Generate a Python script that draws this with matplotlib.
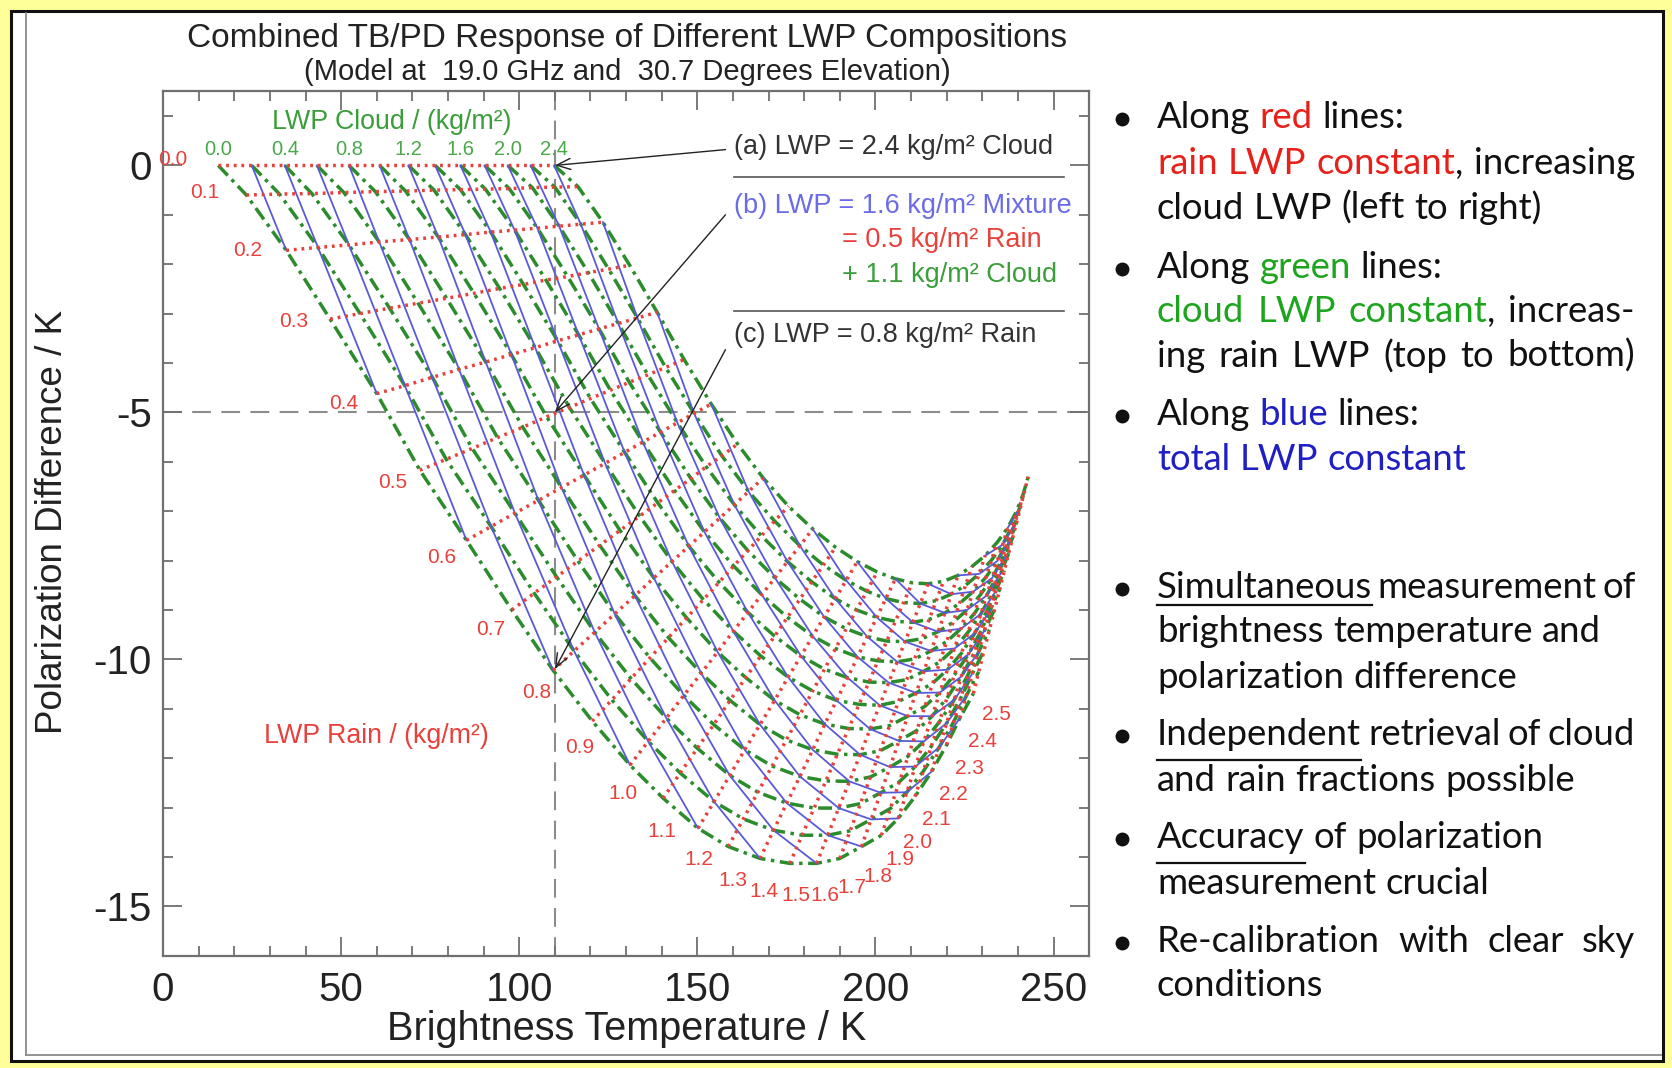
import re
import numpy as np
import matplotlib
matplotlib.use('Agg')
import matplotlib.pyplot as plt
from matplotlib.patches import Rectangle
from matplotlib.lines import Line2D

plt.rcParams['axes.unicode_minus'] = False
plt.rcParams['font.family'] = ['Liberation Sans', 'DejaVu Sans']

W, H = 1672, 1068

# model grid: rows = rain LWP, columns = cloud LWP
cloud_lwp = [0.0, 0.2, 0.4, 0.6, 0.8, 1.0, 1.2, 1.4, 1.6, 1.8, 2.0, 2.2, 2.4]
rain_lwp = [0.0, 0.1, 0.2, 0.3, 0.4, 0.5, 0.6, 0.7, 0.8, 0.9, 1.0, 1.1, 1.2,
            1.3, 1.4, 1.5, 1.6, 1.7, 1.8, 1.9, 2.0, 2.1, 2.2, 2.3, 2.4, 2.5]

# brightness temperature (K)
tb_table = [
    [15.5, 24.9, 34.2, 43.2, 52.2, 60.8, 68.9, 76.4, 83.5, 90.3, 96.8, 103.2, 109.8],
    [23.4, 32.7, 41.8, 50.8, 59.6, 68.1, 76.1, 83.5, 90.5, 97.2, 103.7, 110.0, 116.5],
    [34.6, 43.5, 52.2, 60.7, 69.2, 77.3, 84.9, 92.0, 98.7, 105.1, 111.2, 117.3, 123.5],
    [46.9, 55.3, 63.6, 71.6, 79.6, 87.3, 94.5, 101.2, 107.5, 113.6, 119.4, 125.1, 131.0],
    [60.0, 67.9, 75.6, 83.1, 90.6, 97.8, 104.5, 110.8, 116.7, 122.4, 127.8, 133.2, 138.7],
    [72.1, 79.5, 86.8, 93.9, 101.0, 107.7, 114.1, 120.0, 125.6, 130.9, 136.1, 141.1, 146.3],
    [85.2, 92.1, 98.8, 105.4, 111.9, 118.2, 124.1, 129.6, 134.7, 139.7, 144.4, 149.1, 153.9],
    [97.9, 104.2, 110.5, 116.5, 122.6, 128.3, 133.8, 138.9, 143.6, 148.2, 152.5, 156.9, 161.3],
    [109.5, 115.4, 121.2, 126.8, 132.5, 137.8, 142.9, 147.6, 152.0, 156.3, 160.4, 164.4, 168.5],
    [120.5, 126.0, 131.4, 136.7, 141.9, 147.0, 151.7, 156.1, 160.2, 164.2, 168.0, 171.7, 175.6],
    [131.1, 136.2, 141.3, 146.2, 151.1, 155.7, 160.1, 164.2, 168.1, 171.8, 175.3, 178.8, 182.4],
    [140.4, 145.2, 150.0, 154.6, 159.2, 163.6, 167.8, 171.7, 175.3, 178.8, 182.1, 185.4, 188.8],
    [150.2, 154.7, 159.1, 163.3, 167.6, 171.7, 175.5, 179.1, 182.4, 185.6, 188.7, 191.8, 194.9],
    [158.7, 162.9, 167.0, 171.0, 175.0, 178.8, 182.4, 185.7, 188.8, 191.8, 194.7, 197.6, 200.5],
    [167.6, 171.4, 175.1, 178.8, 182.4, 185.8, 189.1, 192.2, 195.0, 197.7, 200.4, 202.9, 205.6],
    [176.0, 179.4, 182.8, 186.1, 189.3, 192.5, 195.4, 198.2, 200.7, 203.2, 205.6, 207.9, 210.3],
    [183.5, 186.6, 189.7, 192.7, 195.7, 198.5, 201.2, 203.7, 206.1, 208.3, 210.5, 212.6, 214.8],
    [190.0, 192.9, 195.8, 198.6, 201.3, 204.0, 206.5, 208.8, 211.0, 213.1, 215.1, 217.1, 219.1],
    [196.1, 198.8, 201.5, 204.1, 206.6, 209.1, 211.4, 213.6, 215.6, 217.6, 219.5, 221.3, 223.2],
    [201.7, 204.2, 206.7, 209.2, 211.6, 213.9, 216.1, 218.1, 220.0, 221.8, 223.6, 225.3, 227.1],
    [206.4, 208.8, 211.2, 213.6, 215.9, 218.1, 220.2, 222.2, 224.0, 225.7, 227.4, 229.1, 230.8],
    [211.1, 213.4, 215.7, 217.9, 220.1, 222.2, 224.2, 226.0, 227.8, 229.4, 231.0, 232.6, 234.2],
    [215.8, 217.9, 220.0, 222.1, 224.1, 226.1, 227.9, 229.6, 231.2, 232.8, 234.2, 235.7, 237.2],
    [220.0, 222.0, 223.9, 225.8, 227.6, 229.4, 231.1, 232.7, 234.1, 235.5, 236.9, 238.2, 239.6],
    [223.7, 225.5, 227.2, 228.9, 230.6, 232.2, 233.8, 235.2, 236.5, 237.8, 239.0, 240.3, 241.5],
    [227.5, 229.0, 230.5, 232.0, 233.5, 234.9, 236.2, 237.4, 238.6, 239.7, 240.8, 241.8, 242.9],
]

# polarization difference (K)
pd_table = [
    [0.00, 0.00, 0.00, 0.00, 0.00, 0.00, 0.00, 0.00, 0.00, 0.00, 0.00, 0.00, 0.00],
    [-0.60, -0.58, -0.57, -0.55, -0.53, -0.52, -0.50, -0.49, -0.48, -0.47, -0.45, -0.44, -0.43],
    [-1.72, -1.66, -1.61, -1.55, -1.50, -1.45, -1.40, -1.35, -1.31, -1.27, -1.23, -1.19, -1.15],
    [-3.11, -3.00, -2.89, -2.79, -2.69, -2.59, -2.49, -2.41, -2.32, -2.25, -2.17, -2.10, -2.02],
    [-4.62, -4.46, -4.29, -4.13, -3.98, -3.83, -3.69, -3.55, -3.43, -3.31, -3.20, -3.09, -2.97],
    [-6.17, -5.95, -5.73, -5.51, -5.30, -5.09, -4.90, -4.72, -4.55, -4.39, -4.24, -4.09, -3.93],
    [-7.59, -7.31, -7.04, -6.78, -6.52, -6.27, -6.03, -5.81, -5.60, -5.40, -5.21, -5.02, -4.83],
    [-9.00, -8.66, -8.33, -8.01, -7.69, -7.39, -7.10, -6.83, -6.58, -6.34, -6.10, -5.88, -5.64],
    [-10.22, -9.83, -9.45, -9.08, -8.71, -8.35, -8.02, -7.71, -7.42, -7.14, -6.87, -6.60, -6.33],
    [-11.25, -10.82, -10.39, -9.97, -9.56, -9.16, -8.79, -8.44, -8.11, -7.80, -7.50, -7.20, -6.90],
    [-12.14, -11.66, -11.19, -10.73, -10.28, -9.85, -9.43, -9.05, -8.69, -8.35, -8.02, -7.70, -7.36],
    [-12.81, -12.30, -11.80, -11.32, -10.83, -10.37, -9.93, -9.53, -9.15, -8.78, -8.43, -8.09, -7.73],
    [-13.42, -12.88, -12.35, -11.83, -11.32, -10.83, -10.36, -9.93, -9.53, -9.14, -8.77, -8.40, -8.02],
    [-13.79, -13.23, -12.69, -12.16, -11.63, -11.12, -10.64, -10.20, -9.78, -9.38, -9.00, -8.62, -8.23],
    [-14.03, -13.46, -12.91, -12.37, -11.83, -11.31, -10.83, -10.37, -9.95, -9.54, -9.15, -8.77, -8.37],
    [-14.13, -13.56, -13.01, -12.46, -11.92, -11.40, -10.91, -10.46, -10.03, -9.63, -9.23, -8.85, -8.45],
    [-14.13, -13.56, -13.01, -12.47, -11.93, -11.41, -10.93, -10.47, -10.05, -9.64, -9.25, -8.87, -8.47],
    [-14.03, -13.47, -12.92, -12.38, -11.85, -11.34, -10.85, -10.41, -9.99, -9.58, -9.19, -8.81, -8.42],
    [-13.79, -13.24, -12.70, -12.18, -11.65, -11.15, -10.68, -10.24, -9.83, -9.44, -9.06, -8.68, -8.30],
    [-13.56, -13.02, -12.48, -11.96, -11.44, -10.95, -10.48, -10.05, -9.64, -9.25, -8.87, -8.50, -8.12],
    [-13.22, -12.69, -12.17, -11.66, -11.15, -10.67, -10.21, -9.78, -9.38, -9.00, -8.63, -8.27, -7.90],
    [-12.78, -12.27, -11.76, -11.27, -10.78, -10.31, -9.87, -9.45, -9.07, -8.70, -8.34, -7.99, -7.63],
    [-12.27, -11.78, -11.29, -10.82, -10.35, -9.90, -9.47, -9.08, -8.71, -8.35, -8.01, -7.68, -7.33],
    [-11.73, -11.26, -10.79, -10.34, -9.89, -9.46, -9.05, -8.67, -8.32, -7.98, -7.65, -7.33, -7.00],
    [-11.19, -10.74, -10.29, -9.86, -9.42, -9.01, -8.62, -8.26, -7.92, -7.59, -7.28, -6.97, -6.65],
    [-10.69, -10.25, -9.82, -9.40, -8.98, -8.58, -8.20, -7.85, -7.52, -7.21, -6.90, -6.61, -6.30],
]

cloud_labels = ['0.0', '0.4', '0.8', '1.2', '1.6', '2.0', '2.4']
rain_labels = ['0.0', '0.1', '0.2', '0.3', '0.4', '0.5', '0.6', '0.7', '0.8', '0.9',
               '1.0', '1.1', '1.2', '1.3', '1.4', '1.5', '1.6', '1.7', '1.8', '1.9',
               '2.0', '2.1', '2.2', '2.3', '2.4', '2.5']
# where the rain labels sit (data coords)
rain_label_xy = [(2.7, 0.11), (11.7, -0.54), (23.7, -1.73), (36.8, -3.17), (50.6, -4.81),
                 (64.4, -6.41), (78.3, -7.94), (91.9, -9.39), (104.8, -10.68), (117.0, -11.78),
                 (129.0, -12.71), (140.0, -13.49), (150.5, -14.05), (159.9, -14.47), (168.8, -14.70),
                 (177.8, -14.78), (185.8, -14.78), (193.3, -14.62), (200.8, -14.40), (206.8, -14.05),
                 (211.9, -13.71), (217.2, -13.24), (222.0, -12.74), (226.5, -12.20), (230.0, -11.66),
                 (234.0, -11.12)]

RED = '#e8413c'
GREEN = '#2b8c2b'
BLUE = '#5a5ad8'
LIGHT_GREEN = '#3a9e3a'
INK = '#222222'

tb = np.array(tb_table)
pd = np.array(pd_table)

fig = plt.figure(figsize=(W / 100, H / 100), dpi=100, facecolor='#ffff99')
fig.add_artist(Rectangle((11 / W, 1 - 1061 / H), 1652 / W, 1050 / H, transform=fig.transFigure,
                         facecolor='white', edgecolor='#111111', lw=2.2, zorder=0))
fig.add_artist(Line2D([26 / W, 26 / W], [1 - 13 / H, 1 - 1055 / H], transform=fig.transFigure,
                      color='#8a8a8a', lw=1.3))
fig.add_artist(Line2D([26 / W, 1661 / W], [1 - 1055 / H, 1 - 1055 / H], transform=fig.transFigure,
                      color='#8a8a8a', lw=1.3))

ax = fig.add_axes([0.0975, 0.1051, 0.5539, 0.8094])
ax.set_facecolor('none')
ax.set_xlim(0, 260)
ax.set_ylim(-16, 1.5)

# reference dashed lines
ax.axvline(110, color='#8c8c8c', lw=1.5, ls=(0, (9, 5)), zorder=1)
ax.axhline(-5, color='#8c8c8c', lw=1.5, ls=(0, (9, 5)), zorder=1)

# green: cloud constant
for j in range(len(cloud_lwp)):
    ax.plot(tb[:, j], pd[:, j], color=GREEN, lw=2.5, ls=(0, (4, 1.6, 1, 1.6)), zorder=2)

# blue: total constant (0.2 steps)
for k in range(1, 25):
    js = [j for j in range(len(cloud_lwp) - 1, -1, -1) if 0 <= 2 * (k - j) < len(rain_lwp)]
    xs = [tb[2 * (k - j), j] for j in js]
    ys = [pd[2 * (k - j), j] for j in js]
    ax.plot(xs, ys, color=BLUE, lw=1.3, zorder=3)

# red: rain constant
for i in range(len(rain_lwp)):
    ax.plot(tb[i], pd[i], color=RED, lw=2.5, ls=(0, (0.8, 1.4)), zorder=4)

# grid labels
for n, lab in enumerate(cloud_labels):
    ax.text(tb[0, 2 * n], 0.32, lab, color='#4aa84a', fontsize=14.5, ha='center', va='center', zorder=5)
for lab, (x, y) in zip(rain_labels, rain_label_xy):
    ax.text(x, y, lab, color=RED, fontsize=15, ha='center', va='center', zorder=5)
ax.text(64.1, 0.88, 'LWP Cloud / (kg/m²)', color=LIGHT_GREEN, fontsize=19.3, ha='center', va='center')
ax.text(59.9, -11.55, 'LWP Rain / (kg/m²)', color=RED, fontsize=19.3, ha='center', va='center')

# annotations
note_size = 19.5
ax.text(160.2, 0.37, '(a) LWP = 2.4 kg/m² Cloud', color='#333333', fontsize=note_size, va='center')
ax.text(160.2, -0.82, '(b) LWP = 1.6 kg/m² Mixture', color='#6b6be8', fontsize=note_size, va='center')
ax.text(190.7, -1.51, '= 0.5 kg/m² Rain', color=RED, fontsize=note_size, va='center')
ax.text(190.7, -2.22, '+ 1.1 kg/m² Cloud', color=LIGHT_GREEN, fontsize=note_size, va='center')
ax.text(160.2, -3.43, '(c) LWP = 0.8 kg/m² Rain', color='#333333', fontsize=note_size, va='center')
ax.plot([160.2, 253], [-0.24, -0.24], color='#555555', lw=1.2)
ax.plot([160.2, 253], [-2.94, -2.94], color='#555555', lw=1.2)

arrow = dict(arrowstyle='->,head_length=1.0,head_width=0.4', color=INK, lw=1.0,
             shrinkA=0, shrinkB=0)
ax.annotate('', xy=(110, 0), xytext=(157.9, 0.32), arrowprops=arrow, zorder=6)
ax.annotate('', xy=(110, -5), xytext=(157.9, -1.0), arrowprops=arrow, zorder=6)
ax.annotate('', xy=(110, -10.2), xytext=(157.9, -3.73), arrowprops=arrow, zorder=6)

# axes styling
for s in ax.spines.values():
    s.set_color('#707070')
    s.set_linewidth(1.6)
ax.set_xticks([0, 50, 100, 150, 200, 250])
ax.set_xticks(np.arange(0, 261, 10), minor=True)
ax.set_yticks([0, -5, -10, -15])
ax.set_yticks(np.arange(-16, 2, 1), minor=True)
ax.tick_params(which='both', direction='in', top=True, right=True, color='#707070',
               labelcolor=INK, labelsize=29, width=1.3)
ax.tick_params(which='major', length=14)
ax.tick_params(which='minor', length=7)
ax.tick_params(axis='x', pad=11)
ax.tick_params(axis='y', pad=8)

fig.text(627 / W, 1 - 1029 / H, 'Brightness Temperature / K', fontsize=28.5, color=INK,
         ha='center', va='center')
fig.text(53 / W, 1 - 522 / H, 'Polarization Difference / K', fontsize=26.5, color=INK,
         ha='center', va='center', rotation=90)
fig.text(627 / W, 1 - 39 / H, 'Combined TB/PD Response of Different LWP Compositions', fontsize=24,
         color=INK, ha='center', va='center')
fig.text(627 / W, 1 - 72 / H, '(Model at  19.0 GHz and  30.7 Degrees Elevation)', fontsize=21,
         color=INK, ha='center', va='center')

# right-hand bullet text
PANEL_FONT = 'Lato'
COLORS = {'k': '#111111', 'r': '#e8201a', 'g': '#1ea51e', 'b': '#1f1fc4', 'u': '#111111'}
TEXT_X, BULLET_X, RIGHT_X = 1157, 1122, 1635

panel_lines = [
    (117, "Along {r:red} lines:", False, True),
    (163, "{r:rain LWP constant}, increasing", True, False),
    (208, "cloud LWP (left to right)", False, False),
    (267, "Along {g:green} lines:", False, True),
    (311, "{g:cloud LWP constant}, increas-", True, False),
    (356, "ing rain LWP (top to bottom)", True, False),
    (414, "Along {b:blue} lines:", False, True),
    (459, "{b:total LWP constant}", False, False),
    (587, "{u:Simultaneous} measurement of", True, True),
    (631, "brightness temperature and", False, False),
    (677, "polarization difference", False, False),
    (734, "{u:Independent} retrieval of cloud", True, True),
    (780, "and rain fractions possible", False, False),
    (837, "{u:Accuracy} of polarization", False, True),
    (883, "measurement crucial", False, False),
    (941, "Re-calibration with clear sky", True, True),
    (985, "conditions", False, False),
]

renderer = fig.canvas.get_renderer()


def measure(s, size):
    t = fig.text(0, 0, s, fontsize=size, family=PANEL_FONT)
    w = t.get_window_extent(renderer).width
    t.remove()
    return w


# size the panel font so a plain line spans about the same width as in the slide
PANEL_SIZE = 22.0 * 384.0 / measure('cloud LWP (left to right)', 22.0)


def words_of(markup):
    words = [[]]
    for col, inner, plain in re.findall(r'\{(\w):([^}]*)\}|([^{}]+)', markup):
        text = inner if col else plain
        for k, piece in enumerate(text.split(' ')):
            if k > 0:
                words.append([])
            if piece:
                words[-1].append((piece, col or 'k'))
    return [w for w in words if w]


space_w = measure('x x', PANEL_SIZE) - measure('xx', PANEL_SIZE)

for y, markup, justify, bullet in panel_lines:
    base = y + 11
    words = words_of(markup)
    widths = [[measure(p, PANEL_SIZE) for p, _ in w] for w in words]
    total = sum(sum(ws) for ws in widths)
    gap = space_w
    if justify and len(words) > 1:
        gap = max((RIGHT_X - TEXT_X - total) / (len(words) - 1), 0.6 * space_w)
    x = TEXT_X
    for w, ws in zip(words, widths):
        for (piece, col), pw in zip(w, ws):
            fig.text(x / W, 1 - base / H, piece, fontsize=PANEL_SIZE, family=PANEL_FONT,
                     color=COLORS[col], ha='left', va='baseline')
            if col == 'u':
                drop = 15 if any(c in 'gjpqy' for c in piece) else 7
                fig.add_artist(Line2D([x / W, (x + pw) / W], [1 - (base + drop) / H] * 2,
                                      transform=fig.transFigure, color='#111111', lw=1.6))
            x += pw
        x += gap
    if bullet:
        fig.add_artist(Line2D([BULLET_X / W], [1 - (y + 2) / H], transform=fig.transFigure,
                              marker='o', ms=9, color='#111111'))

fig.savefig('out.png', dpi=100, facecolor=fig.get_facecolor())
